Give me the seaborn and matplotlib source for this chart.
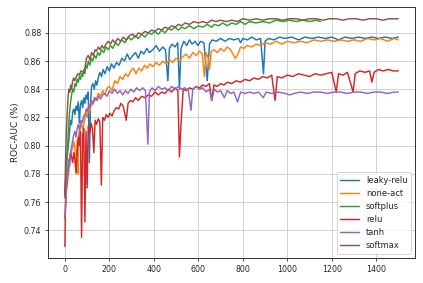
import pandas as pd
import matplotlib.pyplot as plt
import seaborn as sns

# (epoch, ROC-AUC)
leaky_relu = [
    (0, 0.766), (5, 0.781), (10, 0.792), (15, 0.799), (20, 0.808), (25, 0.818), (30, 0.815),
    (35, 0.824), (40, 0.826), (45, 0.822), (50, 0.828), (55, 0.825), (60, 0.831), (65, 0.816),
    (70, 0.829), (75, 0.832), (80, 0.827), (85, 0.834), (90, 0.830), (95, 0.836), (100, 0.833),
    (105, 0.838), (110, 0.788), (115, 0.829), (120, 0.842), (126, 0.844), (132, 0.840),
    (138, 0.846), (144, 0.843), (150, 0.848), (157, 0.852), (165, 0.849), (172, 0.854),
    (180, 0.851), (190, 0.856), (200, 0.853), (210, 0.858), (220, 0.855), (232, 0.859),
    (244, 0.857), (256, 0.862), (268, 0.860), (280, 0.865), (292, 0.861), (305, 0.864),
    (318, 0.866), (330, 0.862), (342, 0.867), (355, 0.865), (368, 0.869), (380, 0.866),
    (395, 0.868), (410, 0.871), (425, 0.867), (440, 0.870), (452, 0.868), (463, 0.846),
    (470, 0.869), (482, 0.872), (495, 0.870), (507, 0.873), (515, 0.840), (522, 0.869),
    (535, 0.874), (548, 0.871), (560, 0.875), (572, 0.872), (585, 0.874), (598, 0.871),
    (610, 0.874), (625, 0.873), (640, 0.846), (650, 0.872), (662, 0.875), (680, 0.874),
    (700, 0.876), (720, 0.874), (740, 0.876), (760, 0.875), (780, 0.876), (790, 0.873),
    (800, 0.876), (820, 0.875), (840, 0.877), (860, 0.875), (880, 0.876), (893, 0.851),
    (900, 0.874), (915, 0.876), (940, 0.875), (965, 0.877), (990, 0.876), (1020, 0.877),
    (1050, 0.875), (1080, 0.877), (1110, 0.876), (1140, 0.877), (1170, 0.876), (1200, 0.877),
    (1230, 0.875), (1260, 0.877), (1290, 0.876), (1320, 0.877), (1350, 0.876), (1380, 0.877),
    (1410, 0.876), (1440, 0.877), (1470, 0.876), (1499, 0.877),
]
none_act = [
    (0, 0.748), (5, 0.765), (10, 0.772), (15, 0.778), (20, 0.785), (25, 0.790), (30, 0.796),
    (35, 0.799), (40, 0.803), (45, 0.798), (50, 0.780), (55, 0.804), (58, 0.780), (62, 0.808),
    (68, 0.812), (75, 0.815), (82, 0.811), (88, 0.819), (95, 0.823), (100, 0.820), (105, 0.827),
    (112, 0.824), (118, 0.831), (125, 0.829), (132, 0.834), (140, 0.832), (150, 0.837),
    (160, 0.835), (170, 0.839), (180, 0.836), (190, 0.841), (200, 0.842), (212, 0.839),
    (224, 0.846), (236, 0.844), (248, 0.849), (260, 0.847), (272, 0.851), (284, 0.849),
    (296, 0.853), (308, 0.855), (320, 0.851), (332, 0.855), (345, 0.853), (358, 0.857),
    (370, 0.855), (382, 0.858), (395, 0.856), (410, 0.859), (425, 0.857), (440, 0.860),
    (455, 0.858), (470, 0.861), (485, 0.859), (500, 0.862), (515, 0.860), (530, 0.863),
    (545, 0.865), (560, 0.862), (575, 0.866), (590, 0.864), (605, 0.867), (618, 0.865),
    (627, 0.849), (635, 0.866), (645, 0.862), (650, 0.854), (658, 0.867), (670, 0.868),
    (685, 0.866), (700, 0.869), (715, 0.867), (730, 0.870), (745, 0.868), (766, 0.862),
    (776, 0.864), (790, 0.870), (805, 0.869), (820, 0.871), (840, 0.870), (860, 0.872),
    (880, 0.871), (900, 0.873), (925, 0.872), (950, 0.874), (975, 0.872), (1000, 0.874),
    (1030, 0.873), (1060, 0.874), (1090, 0.873), (1120, 0.875), (1150, 0.874), (1180, 0.875),
    (1210, 0.874), (1240, 0.875), (1270, 0.874), (1300, 0.875), (1330, 0.874), (1360, 0.876),
    (1390, 0.875), (1420, 0.876), (1450, 0.874), (1480, 0.876), (1499, 0.875),
]
softplus = [
    (0, 0.763), (4, 0.778), (8, 0.790), (12, 0.800), (16, 0.812), (20, 0.822), (25, 0.830),
    (30, 0.836), (35, 0.840), (40, 0.838), (45, 0.844), (50, 0.842), (55, 0.847), (60, 0.845),
    (65, 0.849), (70, 0.847), (75, 0.851), (80, 0.849), (85, 0.853), (90, 0.851), (95, 0.857),
    (100, 0.855), (105, 0.860), (112, 0.857), (118, 0.862), (125, 0.860), (132, 0.864),
    (140, 0.862), (148, 0.866), (156, 0.864), (165, 0.868), (175, 0.866), (185, 0.870),
    (195, 0.868), (205, 0.871), (215, 0.869), (228, 0.873), (240, 0.871), (255, 0.875),
    (270, 0.873), (285, 0.877), (298, 0.875), (305, 0.876), (315, 0.878), (330, 0.876),
    (345, 0.879), (360, 0.877), (375, 0.880), (390, 0.879), (405, 0.881), (420, 0.879),
    (435, 0.882), (450, 0.880), (465, 0.883), (480, 0.882), (495, 0.884), (510, 0.882),
    (525, 0.884), (540, 0.883), (560, 0.885), (580, 0.883), (600, 0.885), (620, 0.884),
    (640, 0.886), (660, 0.884), (672, 0.886), (690, 0.885), (710, 0.887), (730, 0.885),
    (750, 0.887), (770, 0.886), (790, 0.888), (810, 0.886), (830, 0.888), (860, 0.887),
    (890, 0.888), (920, 0.887), (950, 0.889), (980, 0.888), (1010, 0.889), (1040, 0.888),
    (1070, 0.889), (1100, 0.888), (1130, 0.889), (1150, 0.888),
]
relu = [
    (0, 0.7285), (4, 0.775), (8, 0.772), (12, 0.780), (16, 0.786), (20, 0.790), (25, 0.795),
    (30, 0.792), (35, 0.788), (40, 0.795), (45, 0.790), (50, 0.781), (55, 0.795), (60, 0.806),
    (65, 0.800), (70, 0.810), (75, 0.735), (80, 0.808), (85, 0.812), (90, 0.746), (95, 0.810),
    (100, 0.770), (105, 0.814), (112, 0.809), (118, 0.816), (124, 0.812), (130, 0.795),
    (136, 0.818), (142, 0.815), (150, 0.819), (157, 0.817), (164, 0.772), (170, 0.820),
    (178, 0.818), (186, 0.822), (194, 0.820), (202, 0.823), (212, 0.821), (222, 0.825),
    (232, 0.827), (242, 0.826), (252, 0.830), (262, 0.828), (276, 0.818), (284, 0.830),
    (295, 0.832), (305, 0.831), (318, 0.834), (330, 0.832), (345, 0.835), (360, 0.834),
    (375, 0.836), (390, 0.835), (405, 0.838), (420, 0.836), (435, 0.838), (450, 0.837),
    (465, 0.840), (480, 0.838), (495, 0.841), (508, 0.839), (515, 0.792), (522, 0.815),
    (532, 0.840), (545, 0.839), (560, 0.841), (575, 0.840), (590, 0.842), (605, 0.841),
    (620, 0.843), (635, 0.842), (650, 0.844), (660, 0.832), (670, 0.843), (685, 0.842),
    (700, 0.844), (715, 0.843), (730, 0.845), (750, 0.844), (770, 0.846), (790, 0.845),
    (810, 0.847), (830, 0.846), (850, 0.848), (870, 0.847), (890, 0.849), (910, 0.848),
    (930, 0.850), (945, 0.832), (955, 0.849), (975, 0.848), (1000, 0.850), (1025, 0.849),
    (1050, 0.851), (1075, 0.850), (1100, 0.849), (1125, 0.851), (1150, 0.850), (1175, 0.851),
    (1200, 0.852), (1220, 0.838), (1230, 0.851), (1250, 0.850), (1270, 0.852), (1296, 0.838),
    (1305, 0.851), (1325, 0.853), (1350, 0.852), (1370, 0.853), (1380, 0.845), (1390, 0.852),
    (1410, 0.854), (1430, 0.853), (1455, 0.854), (1475, 0.853), (1499, 0.853),
]
tanh = [
    (0, 0.749), (4, 0.758), (8, 0.772), (12, 0.780), (16, 0.790), (20, 0.785), (25, 0.795),
    (30, 0.799), (35, 0.804), (40, 0.808), (45, 0.810), (50, 0.806), (55, 0.812), (60, 0.815),
    (66, 0.811), (72, 0.818), (78, 0.816), (84, 0.821), (90, 0.822), (96, 0.826), (102, 0.824),
    (108, 0.829), (114, 0.827), (120, 0.832), (128, 0.830), (136, 0.834), (144, 0.832),
    (152, 0.835), (160, 0.833), (170, 0.836), (180, 0.837), (190, 0.835), (200, 0.839),
    (212, 0.837), (224, 0.840), (236, 0.837), (248, 0.839), (260, 0.836), (272, 0.839),
    (284, 0.837), (296, 0.840), (310, 0.838), (322, 0.841), (336, 0.839), (350, 0.841),
    (362, 0.839), (373, 0.801), (380, 0.838), (392, 0.841), (405, 0.839), (420, 0.842),
    (435, 0.840), (450, 0.841), (465, 0.839), (480, 0.842), (495, 0.840), (510, 0.842),
    (525, 0.840), (540, 0.841), (555, 0.839), (567, 0.825), (575, 0.840), (590, 0.842),
    (605, 0.840), (620, 0.841), (635, 0.838), (650, 0.840), (660, 0.832), (672, 0.840),
    (685, 0.838), (700, 0.839), (717, 0.834), (730, 0.839), (745, 0.837), (760, 0.838),
    (776, 0.831), (790, 0.838), (810, 0.837), (830, 0.838), (850, 0.837), (870, 0.838),
    (892, 0.834), (905, 0.838), (930, 0.837), (960, 0.838), (990, 0.837), (1010, 0.836),
    (1030, 0.837), (1060, 0.838), (1090, 0.837), (1120, 0.838), (1150, 0.838), (1180, 0.837),
    (1210, 0.838), (1240, 0.838), (1270, 0.837), (1300, 0.838), (1330, 0.838), (1360, 0.837),
    (1390, 0.838), (1420, 0.838), (1450, 0.837), (1480, 0.838), (1499, 0.838),
]
softmax = [
    (0, 0.765), (3, 0.790), (6, 0.808), (10, 0.822), (14, 0.834), (18, 0.840), (22, 0.838),
    (26, 0.843), (30, 0.840), (35, 0.846), (40, 0.848), (45, 0.846), (52, 0.849), (58, 0.851),
    (65, 0.850), (72, 0.853), (80, 0.852), (90, 0.855), (97, 0.862), (105, 0.864), (112, 0.861),
    (120, 0.866), (128, 0.864), (135, 0.868), (142, 0.867), (150, 0.870), (158, 0.868),
    (166, 0.871), (175, 0.869), (185, 0.872), (195, 0.874), (205, 0.872), (215, 0.875),
    (225, 0.873), (238, 0.876), (250, 0.874), (262, 0.877), (276, 0.875), (290, 0.878),
    (305, 0.879), (318, 0.877), (330, 0.880), (345, 0.879), (360, 0.881), (375, 0.880),
    (390, 0.882), (405, 0.881), (420, 0.883), (435, 0.882), (450, 0.884), (465, 0.883),
    (480, 0.885), (495, 0.884), (510, 0.886), (525, 0.885), (540, 0.887), (560, 0.886),
    (580, 0.888), (600, 0.887), (620, 0.888), (640, 0.887), (660, 0.889), (680, 0.888),
    (700, 0.889), (725, 0.888), (750, 0.889), (775, 0.888), (800, 0.890), (830, 0.889),
    (860, 0.890), (890, 0.889), (920, 0.890), (950, 0.890), (980, 0.889), (1010, 0.890),
    (1040, 0.890), (1070, 0.889), (1100, 0.890), (1130, 0.890), (1160, 0.889), (1190, 0.890),
    (1220, 0.890), (1250, 0.889), (1280, 0.890), (1310, 0.890), (1340, 0.889), (1370, 0.890),
    (1400, 0.890), (1430, 0.889), (1460, 0.890), (1499, 0.890),
]

series_names = ['leaky-relu', 'none-act', 'softplus', 'relu', 'tanh', 'softmax']
series_data = [leaky_relu, none_act, softplus, relu, tanh, softmax]
colors = ['#1f77b4', '#ff7f0e', '#2ca02c', '#d62728', '#9467bd', '#8c564b']
x_ticks = [0, 200, 400, 600, 800, 1000, 1200, 1400]
y_ticks = [0.74, 0.76, 0.78, 0.80, 0.82, 0.84, 0.86, 0.88]

frames = []
for name, pts in zip(series_names, series_data):
    d = pd.DataFrame(pts, columns=['epoch', 'auc'])
    d['activation'] = name
    frames.append(d)
df = pd.concat(frames, ignore_index=True)

sns.set_style('whitegrid', {
    'axes.edgecolor': '0.2',
    'grid.color': '0.82',
    'xtick.bottom': True,
    'ytick.left': True,
    'xtick.color': '0.15',
    'ytick.color': '0.15',
})
plt.rcParams['font.family'] = ['DejaVu Sans']

fig, ax = plt.subplots(figsize=(6, 283 / 70.5), dpi=70.5)
fig.subplots_adjust(left=0.114, right=0.981, bottom=0.089, top=0.974)

sns.lineplot(data=df, x='epoch', y='auc', hue='activation', hue_order=series_names,
             palette=colors, errorbar=None, linewidth=1.5, ax=ax)

ax.set_xticks(x_ticks)
ax.set_yticks(y_ticks)
ax.tick_params(labelsize=8, length=3.5, width=0.8)
ax.set_xlabel('')
ax.set_ylabel('ROC-AUC (%)', fontsize=9)
for s in ax.spines.values():
    s.set_linewidth(1.0)
ax.grid(True, linewidth=1.0)

sns.move_legend(ax, 'lower right', title=None, fontsize=8.5, frameon=True,
                handlelength=2.3)

plt.savefig('out.png', dpi=70.5)
plt.close()
